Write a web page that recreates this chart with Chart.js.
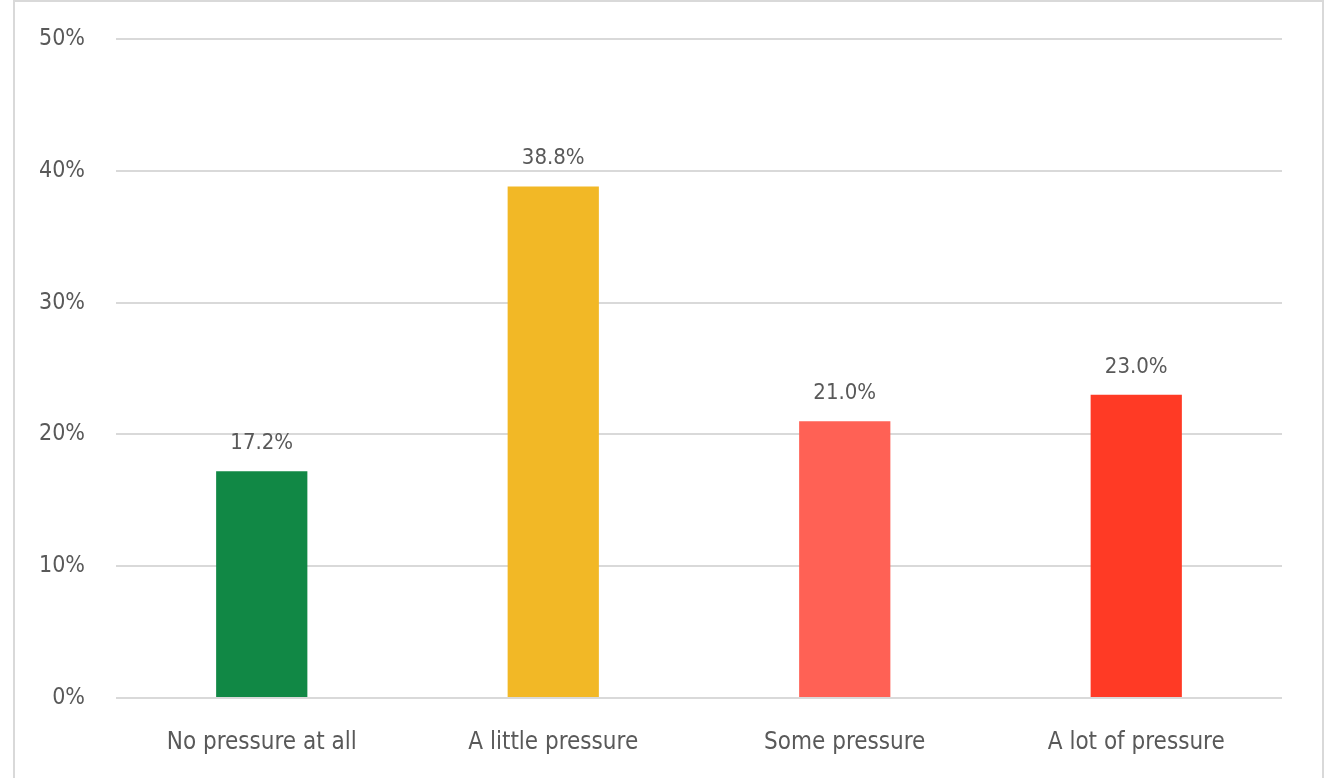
<!DOCTYPE html>
<html>
<head>
<meta charset="utf-8">
<script src="https://cdn.jsdelivr.net/npm/chart.js@4/dist/chart.umd.min.js"></script>
<style>
  html, body { margin: 0; padding: 0; background: #fff; }
  #wrap { position: relative; width: 1334px; height: 778px; overflow: hidden; }
  #frame { position: absolute; left: 13px; top: 0; width: 1307px; height: 800px; border: 2px solid #d9d9d9; }
  canvas { position: absolute; left: 0; top: 0; }
</style>
</head>
<body>
<div id="wrap">
  <div id="frame"></div>
  <canvas id="chart" width="1334" height="778"></canvas>
</div>
<script>
const categories = ["No pressure at all", "A little pressure", "Some pressure", "A lot of pressure"];
const values = [17.2, 38.8, 21.0, 23.0];
const barColors = ["#118845", "#F2B826", "#FF6155", "#FF3A25"];
const tickValues = [0, 10, 20, 30, 40, 50];

const FONT = '"Liberation Sans Narrow", "DejaVu Sans Condensed", sans-serif';
const TEXT = '#595959';

// value labels above bars
const barLabels = {
    id: 'barLabels',
    afterDatasetsDraw(chart) {
        const c = chart.ctx;
        const meta = chart.getDatasetMeta(0);
        c.save();
        c.font = '22px ' + FONT;
        c.fillStyle = TEXT;
        c.textAlign = 'center';
        c.textBaseline = 'bottom';
        meta.data.forEach(function (bar, i) {
            c.fillText(values[i].toFixed(1) + '%', bar.x, bar.y - 17);
        });
        c.restore();
    }
};

Chart.defaults.animation = false;
new Chart(document.getElementById('chart'), {
    type: 'bar',
    data: {
        labels: categories,
        datasets: [{
            data: values,
            backgroundColor: barColors,
            borderWidth: 0,
            barPercentage: 0.313,
            categoryPercentage: 1
        }]
    },
    options: {
        responsive: false,
        layout: { padding: { top: 39, right: 52, bottom: 0, left: 0 } },
        plugins: { legend: { display: false }, tooltip: { enabled: false } },
        scales: {
            x: {
                grid: { display: false },
                border: { display: false },
                ticks: { color: TEXT, font: { family: FONT, size: 24 }, padding: 22 },
                afterFit: function (s) { s.height = 80; }
            },
            y: {
                min: 0,
                max: 50,
                afterBuildTicks: function (s) { s.ticks = tickValues.map(function (v) { return { value: v }; }); },
                grid: { color: '#d9d9d9', lineWidth: 2, drawTicks: false },
                border: { display: false },
                ticks: {
                    color: TEXT,
                    font: { family: FONT, size: 23 },
                    padding: 31,
                    callback: function (v) { return v + '%'; }
                },
                afterFit: function (s) { s.width = 116; s.paddingTop = 0; s.paddingBottom = 0; }
            }
        }
    },
    plugins: [barLabels]
});
</script>
</body>
</html>
